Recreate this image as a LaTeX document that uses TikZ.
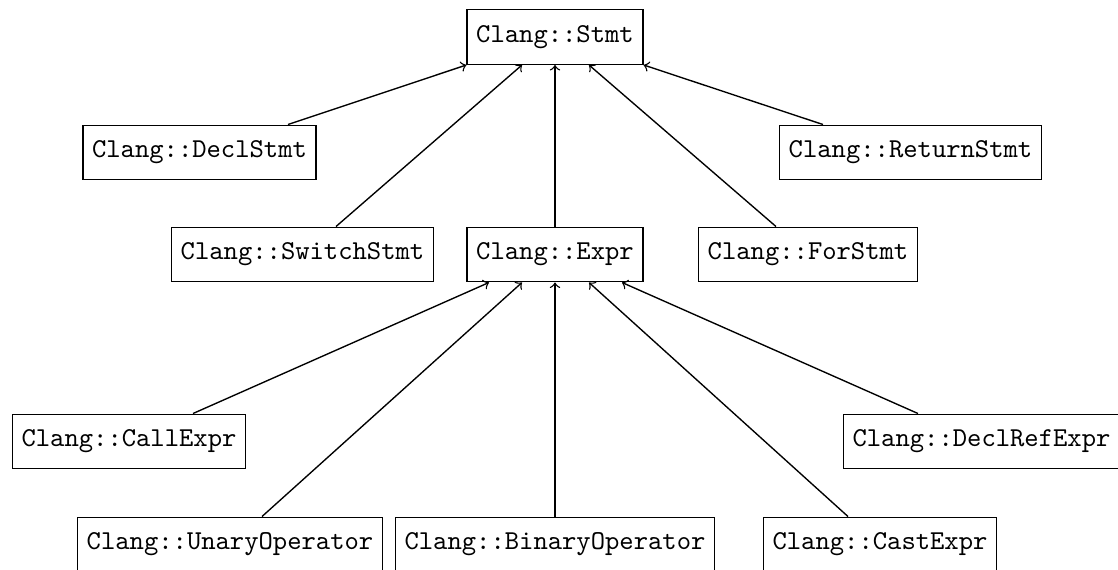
\documentclass[tikz,border=0pt]{standalone}
\usetikzlibrary{calc}
\begin{document}
\begin{tikzpicture}[x=0.3663pt,y=-0.3663pt,
  cls/.style={draw,line width=0.5pt,font=\ttfamily,minimum height=20pt,inner sep=3.33pt},
  inh/.style={->,line width=0.5pt}]
\useasboundingbox (0,0) rectangle (1118,569);
% nodes
\node[cls] (stmt)    at (555,37)     {Clang::Stmt};
\node[cls] (decl)    at (199.5,152.5) {Clang::DeclStmt};
\node[cls] (ret)     at (910.5,152.5) {Clang::ReturnStmt};
\node[cls] (switch)  at (302.5,254.5) {Clang::SwitchStmt};
\node[cls] (expr)    at (555,254.5)   {Clang::Expr};
\node[cls] (for)     at (808,254.5)   {Clang::ForStmt};
\node[cls] (call)    at (129,441.5)   {Clang::CallExpr};
\node[cls] (declref) at (981.5,441.5) {Clang::DeclRefExpr};
\node[cls] (unary)   at (230,544.5)   {Clang::UnaryOperator};
\node[cls] (binary)  at (555,544.5)   {Clang::BinaryOperator};
\node[cls] (cast)    at (880,544.5)   {Clang::CastExpr};
% connectors to Stmt
\draw[inh] ($(decl.north)+(88.5,0)$)   -- (stmt.south west);
\draw[inh] ($(switch.north)+(33.5,0)$) -- ($(stmt.south)+(-33,0)$);
\draw[inh] (expr.north)                -- (stmt.south);
\draw[inh] ($(for.north)+(-32,0)$)     -- ($(stmt.south)+(34,0)$);
\draw[inh] ($(ret.north)+(-87.5,0)$)   -- (stmt.south east);
% connectors to Expr
\draw[inh] ($(call.north)+(64,0)$)      -- ($(expr.south)+(-66,0)$);
\draw[inh] ($(unary.north)+(32,0)$)     -- ($(expr.south)+(-33,0)$);
\draw[inh] (binary.north)               -- (expr.south);
\draw[inh] ($(cast.north)+(-32,0)$)     -- ($(expr.south)+(34,0)$);
\draw[inh] ($(declref.north)+(-63.5,0)$) -- ($(expr.south)+(67,0)$);
\end{tikzpicture}
\end{document}
